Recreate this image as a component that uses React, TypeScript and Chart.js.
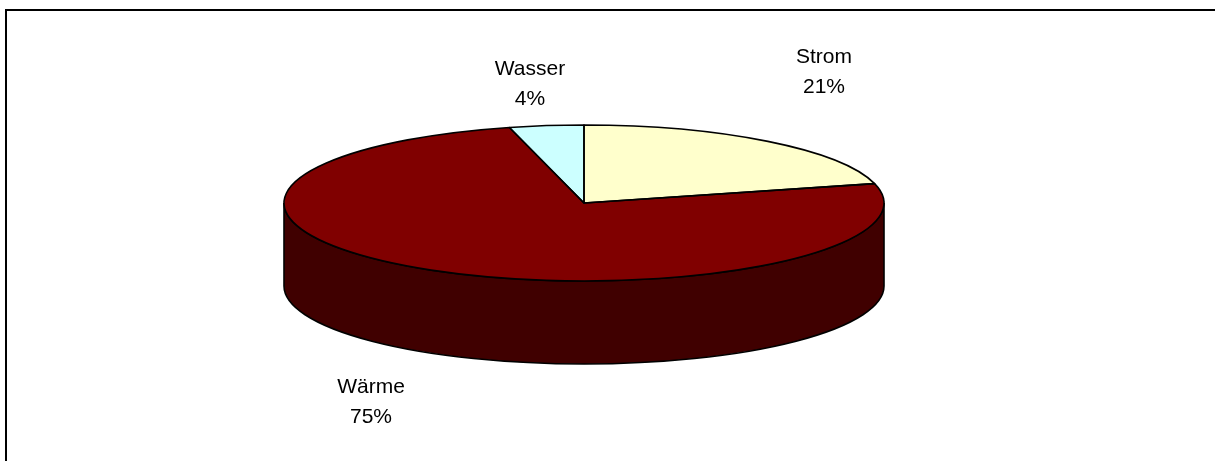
import React, { useEffect, useRef } from "react";
import { Chart, registerables } from "chart.js";

Chart.register(...registerables);

const categories = ["Strom", "Wärme", "Wasser"];
const shares = [21, 75, 4];
const topColors = ["#FFFFCC", "#800000", "#CCFFFF"];
const sideColors = ["#808066", "#400000", "#668080"];
const labelCentres = [
  [824, 57],
  [371, 387],
  [530, 69],
];

const W = 1215;
const H = 461;
const CX = 584;
const CY = 203;
const RX = 300;
const RY = 78;
const DEPTH = 83;
const R = 150;
const LINE = 1.6;
const FONT = '21px "Liberation Sans", Arial, sans-serif';

const piePlugin = {
  id: "pie3d",
  beforeDraw(chart: any) {
    const ctx = chart.ctx;
    ctx.save();
    ctx.fillStyle = "#ffffff";
    ctx.fillRect(0, 0, W, H);
    ctx.strokeStyle = "#000000";
    ctx.lineWidth = 2;
    ctx.beginPath();
    ctx.moveTo(6, H + 2);
    ctx.lineTo(6, 10);
    ctx.lineTo(W + 2, 10);
    ctx.stroke();
    ctx.restore();
  },
  beforeDatasetDraw(chart: any) {
    const ctx = chart.ctx;
    const arcs = chart.getDatasetMeta(0).data;
    ctx.save();
    // side wall: only the front half of the rim is visible
    arcs.forEach((arc: any, i: number) => {
      const a0 = Math.max(arc.startAngle, 0);
      const a1 = Math.min(arc.endAngle, Math.PI);
      if (a1 <= a0) return;
      ctx.beginPath();
      ctx.ellipse(arc.x, arc.y, RX, RY, 0, a0, a1);
      ctx.ellipse(arc.x, arc.y + DEPTH, RX, RY, 0, a1, a0, true);
      ctx.closePath();
      ctx.fillStyle = sideColors[i];
      ctx.strokeStyle = "#000000";
      ctx.lineWidth = LINE;
      ctx.fill();
      ctx.stroke();
    });
    ctx.restore();
    // squash the flat pie into the perspective ellipse
    const c = arcs[0];
    ctx.save();
    ctx.translate(c.x, c.y);
    ctx.scale(RX / c.outerRadius, RY / c.outerRadius);
    ctx.translate(-c.x, -c.y);
  },
  afterDatasetDraw(chart: any) {
    const ctx = chart.ctx;
    ctx.restore();
    const arcs = chart.getDatasetMeta(0).data;
    ctx.save();
    ctx.strokeStyle = "#000000";
    ctx.lineWidth = LINE;
    ctx.lineJoin = "round";
    arcs.forEach((arc: any) => {
      ctx.beginPath();
      ctx.moveTo(arc.x, arc.y);
      ctx.ellipse(arc.x, arc.y, RX, RY, 0, arc.startAngle, arc.endAngle);
      ctx.closePath();
      ctx.stroke();
    });
    ctx.restore();
  },
  afterDraw(chart: any) {
    const ctx = chart.ctx;
    ctx.save();
    ctx.fillStyle = "#000000";
    ctx.font = FONT;
    ctx.textAlign = "center";
    ctx.textBaseline = "middle";
    categories.forEach((name, i) => {
      const [x, y] = labelCentres[i];
      ctx.fillText(name, x, y);
      ctx.fillText(`${shares[i]}%`, x, y + 30);
    });
    ctx.restore();
  },
};

export default function App() {
  const ref = useRef<HTMLCanvasElement>(null);
  useEffect(() => {
    const chart = new Chart(ref.current!, {
      type: "pie",
      data: {
        labels: categories,
        datasets: [{ data: shares, backgroundColor: topColors, borderWidth: 0 }],
      },
      options: {
        animation: false,
        responsive: false,
        layout: {
          padding: {
            left: CX - R,
            right: W - CX - R,
            top: CY - R,
            bottom: H - CY - R,
          },
        },
        plugins: { legend: { display: false }, tooltip: { enabled: false } },
      },
      plugins: [piePlugin],
    } as any);
    return () => chart.destroy();
  }, []);
  return (
    <canvas
      ref={ref}
      width={W}
      height={H}
      style={{ position: "absolute", left: 0, top: 0, display: "block" }}
    />
  );
}
